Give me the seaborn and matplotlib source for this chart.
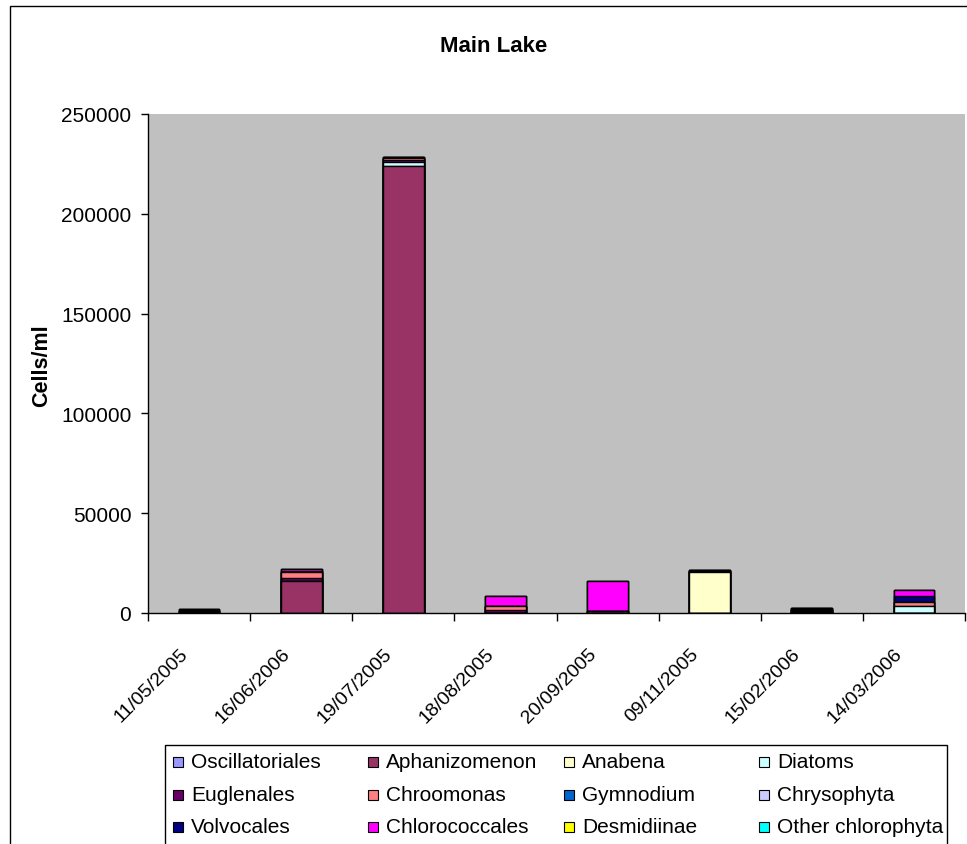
import matplotlib
matplotlib.use("Agg")
import matplotlib.pyplot as plt
from matplotlib.patches import Rectangle
from matplotlib.ticker import FixedLocator
from matplotlib.transforms import ScaledTranslation
import numpy as np
import pandas as pd
import seaborn as sns

# Sampling dates (category order as plotted)
dates = ["11/05/2005", "16/06/2006", "19/07/2005", "18/08/2005",
         "20/09/2005", "09/11/2005", "15/02/2006", "14/03/2006"]

# Cell counts (cells/ml) per taxon, stacked bottom to top in this order
oscillatoriales = [0, 0, 0, 0, 0, 0, 0, 0]
aphanizomenon = [0, 16000, 223700, 0, 0, 0, 0, 0]
anabena = [0, 0, 0, 0, 0, 20500, 0, 0]
diatoms = [0, 0, 2500, 0, 0, 0, 500, 3300]
euglenales = [700, 1300, 900, 1600, 0, 400, 700, 0]
chroomonas = [400, 3300, 700, 2000, 1000, 300, 500, 2200]
gymnodium = [0, 0, 0, 0, 0, 0, 0, 0]
chrysophyta = [0, 0, 0, 0, 0, 0, 300, 0]
volvocales = [400, 600, 600, 0, 0, 300, 400, 2800]
chlorococcales = [300, 600, 0, 4700, 15000, 0, 300, 3400]
desmidiinae = [0, 0, 0, 0, 0, 0, 0, 0]
other_chlorophyta = [0, 0, 0, 0, 0, 0, 0, 0]

series_names = ["Oscillatoriales", "Aphanizomenon", "Anabena", "Diatoms",
                "Euglenales", "Chroomonas", "Gymnodium", "Chrysophyta",
                "Volvocales", "Chlorococcales", "Desmidiinae", "Other chlorophyta"]
series_values = [oscillatoriales, aphanizomenon, anabena, diatoms,
                 euglenales, chroomonas, gymnodium, chrysophyta,
                 volvocales, chlorococcales, desmidiinae, other_chlorophyta]
series_colors = ["#9999FF", "#993366", "#FFFFCC", "#CCFFFF",
                 "#660066", "#FF8080", "#0066CC", "#CCCCFF",
                 "#000080", "#FF00FF", "#FFFF00", "#00FFFF"]

sns.set_style("ticks")
plt.rcParams["font.family"] = ["Liberation Sans", "DejaVu Sans"]
plt.rcParams["text.color"] = "black"
plt.rcParams["axes.labelcolor"] = "black"
plt.rcParams["xtick.color"] = "black"
plt.rcParams["ytick.color"] = "black"

W, H = 967, 845
fig = plt.figure(figsize=(W / 100, H / 100), dpi=100)
fig.patch.set_facecolor("white")

# Outer chart frame
fig.patches.append(Rectangle((9.5 / W, -0.05), 1.1, 1 - 6.5 / H + 0.05,
                             transform=fig.transFigure, fill=False,
                             edgecolor="black", linewidth=1.0))

ax = fig.add_axes([148 / W, 1 - 614 / H, (965 - 148) / W, 499 / H])
ax.set_facecolor("#C0C0C0")

# Stack via cumulative sums: draw the tallest cumulative layer first
df = pd.DataFrame({name: vals for name, vals in zip(series_names, series_values)})
cum = df[series_names].cumsum(axis=1)
for name, color in reversed(list(zip(series_names, series_colors))):
    layer = pd.DataFrame({"date": dates, "value": cum[name].values})
    sns.barplot(data=layer, x="date", y="value", order=dates, color=color,
                width=0.40, edgecolor="black", linewidth=1.0, saturation=1,
                ax=ax, errorbar=None)

ax.set_xlim(-0.5, len(dates) - 0.5)
ax.set_ylim(0, 250000)
ax.set_yticks(np.arange(0, 250001, 50000))
ax.set_yticklabels([str(v) for v in range(0, 250001, 50000)], fontsize=15)
ax.tick_params(axis="y", direction="out", length=5, width=1, pad=7)

# Category labels at bar centers, tick marks at category boundaries
ax.set_xticks(range(len(dates)))
ax.set_xticklabels(dates, rotation=45, ha="right", va="center",
                   rotation_mode="anchor", fontsize=14)
ax.tick_params(axis="x", which="major", length=0, pad=27)
shift = ScaledTranslation(-14 / 100, 0, fig.dpi_scale_trans)
for lbl in ax.get_xticklabels():
    lbl.set_transform(lbl.get_transform() + shift)
ax.xaxis.set_minor_locator(FixedLocator(np.arange(-0.5, len(dates), 1.0)))
ax.tick_params(axis="x", which="minor", direction="out", length=6, width=1)

ax.set_xlabel("")
ax.set_ylabel("Cells/ml", fontsize=15.5, fontweight="bold")
ax.yaxis.set_label_coords((52 - 148) / (965 - 148), (614 - 366) / 499)
for side in ["top", "right"]:
    ax.spines[side].set_visible(False)
ax.spines["left"].set_linewidth(1)
ax.spines["bottom"].set_linewidth(1)
ax.spines["left"].set_color("black")
ax.spines["bottom"].set_color("black")

fig.text(494 / W, 1 - 46 / H, "Main Lake", ha="center", va="center",
         fontsize=16, fontweight="bold")

# Legend box, 4 columns by 3 rows
fig.patches.append(Rectangle((165 / W, -0.05), (947 - 165) / W, 1 - 746 / H + 0.05,
                             transform=fig.transFigure, fill=False,
                             edgecolor="black", linewidth=1.0))
col_x = [173, 368, 564, 759]
for i, (name, color) in enumerate(zip(series_names, series_colors)):
    row, col = divmod(i, 4)
    x0 = col_x[col]
    yc = 763 + row * 32.5
    fig.patches.append(Rectangle((x0 / W, 1 - (yc + 5) / H), 10 / W, 10 / H,
                                 transform=fig.transFigure, facecolor=color,
                                 edgecolor="black", linewidth=0.8))
    fig.text((x0 + 18) / W, 1 - yc / H, name, ha="left", va="center", fontsize=15)

fig.savefig("out.png", dpi=100)
